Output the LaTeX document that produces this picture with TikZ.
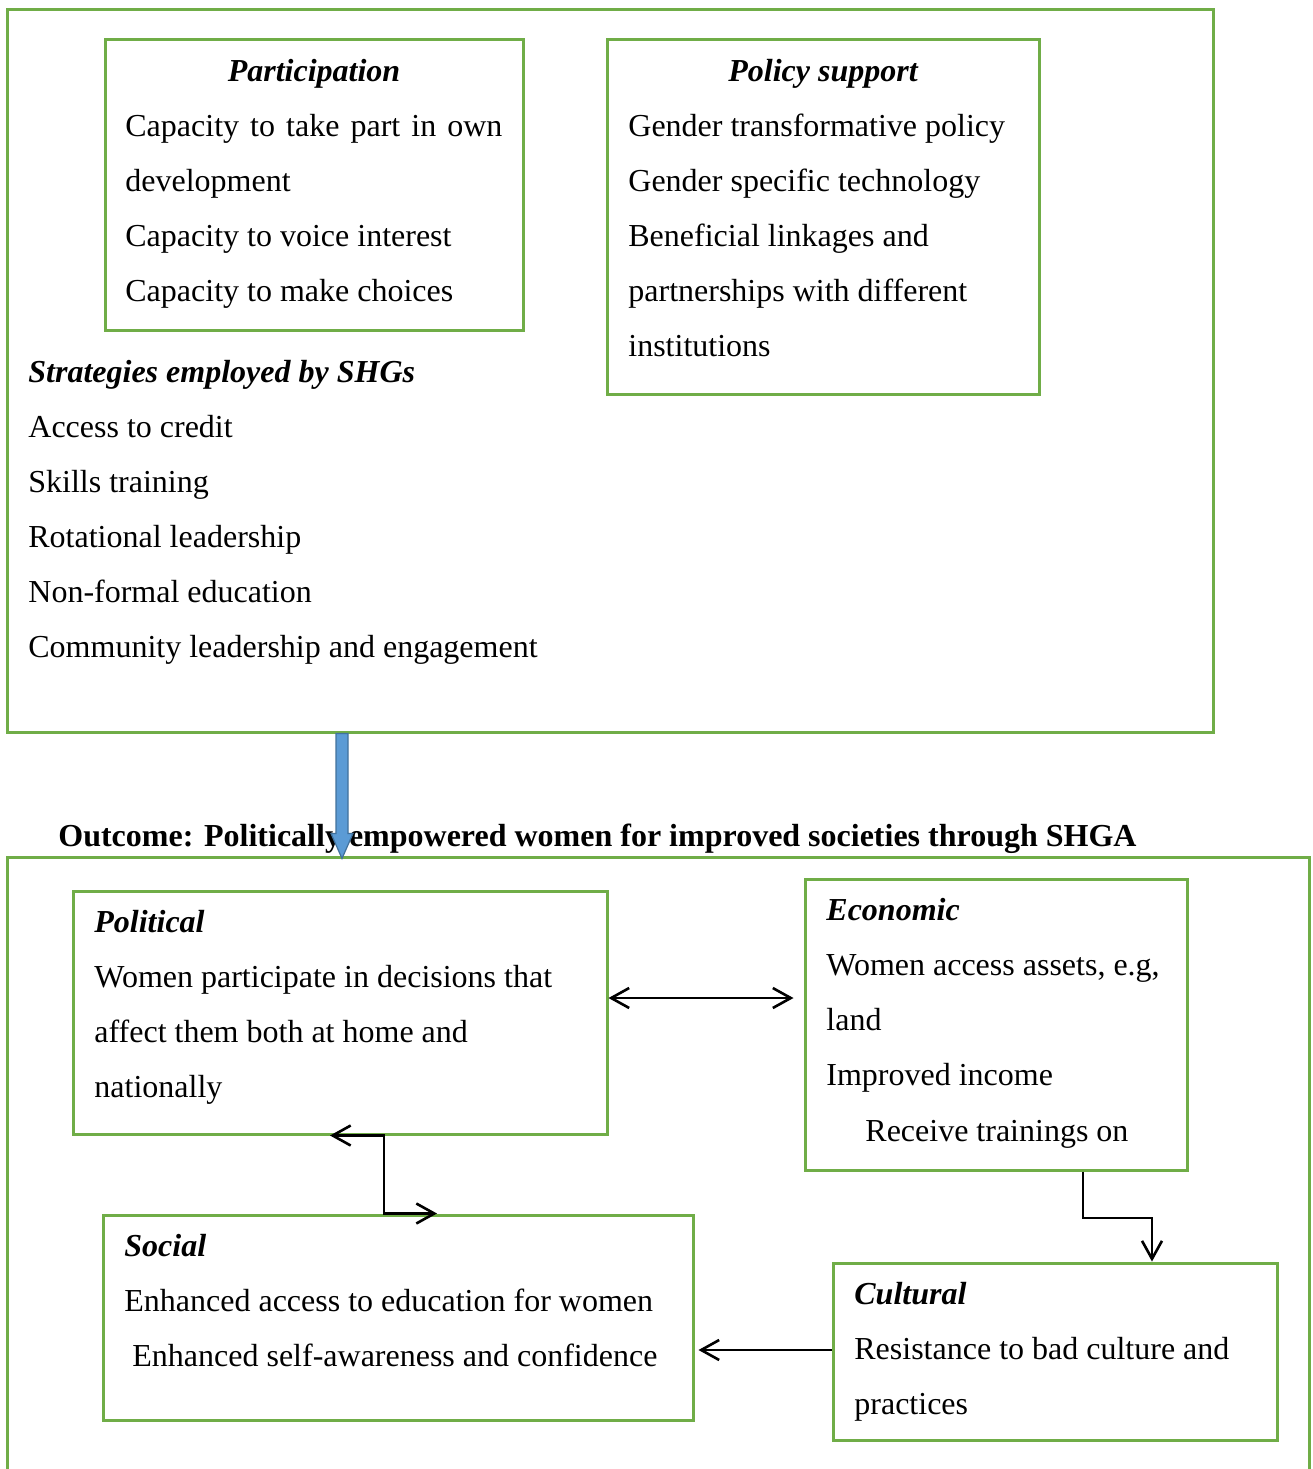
\documentclass[tikz,border=0pt]{standalone}
\usepackage{fontspec}
\setmainfont{Liberation Serif}
\usetikzlibrary{arrows.meta,fit}
\definecolor{boxgreen}{RGB}{112,173,71}
\definecolor{arrowblue}{RGB}{91,155,213}
\definecolor{arrowedge}{RGB}{65,113,156}
\tikzset{barb/.tip={Straight Barb[length=9pt,width=10pt]}}

\begin{document}
\begin{tikzpicture}[x=0.5pt, y=-0.5pt,
  every node/.style={font=\fontsize{16}{20}\selectfont, inner sep=0pt},
  greenbox/.style={draw=boxgreen, line width=1.5pt, inner sep=0pt},
  txt/.style={anchor=base west},
  head/.style={font=\fontsize{16}{20}\selectfont\bfseries\itshape},
  link/.style={line width=1.3pt}]
\useasboundingbox (0,0) rectangle (1313,1469);

% upper frame
\node[greenbox, fit={(7,9) (1213,732)}] (frame) {};
\node[greenbox, fit={(105,39) (523,330)}] (partic) {};
\node[greenbox, fit={(607,39) (1039,394)}] (policy) {};

\node[head, anchor=base] (particHead) at (314,81) {Participation};
\foreach \line [count=\i] in {{\makebox[188.5pt][s]{Capacity to take part in own}},
    development, Capacity to voice interest, Capacity to make choices}
  \node[txt] (partic\i) at (125,81+55*\i) {\line};

\node[head, anchor=base] (policyHead) at (823,81) {Policy support};
\foreach \line [count=\i] in {Gender transformative policy, Gender specific technology,
    Beneficial linkages and, partnerships with different, institutions}
  \node[txt] (policy\i) at (628,81+55*\i) {\line};

\node[head, txt] (stratHead) at (28,382) {Strategies employed by SHGs};
\foreach \line [count=\i] in {Access to credit, Skills training, Rotational leadership,
    Non-formal education, Community leadership and engagement}
  \node[txt] (strat\i) at (28,382+55*\i) {\line};

% outcome
\node[txt, font=\fontsize{16}{20}\selectfont\bfseries] (outcome) at (58,846)
  {Outcome: Politically empowered women for improved societies through SHGA};
\draw[boxgreen, line width=1.5pt] (7,1480) -- (7,857) coordinate (lowFrame) -- (1309,857) -- (1309,1480);

\node[greenbox, fit={(73,891) (607,1134)}] (polit) {};
\node[greenbox, fit={(805,879) (1187,1170)}] (econ) {};
\node[greenbox, fit={(103,1215) (693,1420)}] (social) {};
\node[greenbox, fit={(833,1263) (1277,1440)}] (cult) {};

\node[head, txt] (politHead) at (94,932) {Political};
\foreach \line [count=\i] in {Women participate in decisions that,
    affect them both at home and, nationally}
  \node[txt] (polit\i) at (94,932+55*\i) {\line};

\node[head, txt] (econHead) at (826,920) {Economic};
\foreach \line [count=\i] in {{Women access assets, e.g,}, land, Improved income}
  \node[txt] (econ\i) at (826,920+55*\i) {\line};
\node[txt] (econ4) at (865,1141) {Receive trainings on};

\node[head, txt] (socialHead) at (124,1256) {Social};
\node[txt] (social1) at (124,1311) {Enhanced access to education for women};
\node[txt] (social2) at (132,1366) {Enhanced self-awareness and confidence};

\node[head, txt] (cultHead) at (854,1304) {Cultural};
\node[txt] (cult1) at (854,1359) {Resistance to bad culture and};
\node[txt] (cult2) at (854,1414) {practices};

% connectors
\draw[link, barb-barb, shorten >=5pt] (polit.east |- 0,998) -- (econ.west |- 0,998);
\draw[link, barb-barb] (polit.south -| 330,0) -- (polit.south -| 384,0)
  -- (social.north -| 384,0) -- (social.north -| 437,0);
\draw[link, -barb] (econ.south -| 1083,0) -- (1083,1218) -- (1152,1218) -- (cult.north -| 1152,0);
\draw[link, -barb, shorten >=2pt] (cult.west |- 0,1350) -- (social.east |- 0,1350);

% block arrow
\coordinate (arrowTop) at (frame.south -| 342,0);
\filldraw[fill=arrowblue, draw=arrowedge, line width=0.6pt] (arrowTop) ++(-6,0) -- ++(12,0)
  -- ++(0,100) -- ++(5,0) -- ++(-11,25) -- ++(-11,-25) -- ++(5,0) -- cycle;
\end{tikzpicture}
\end{document}
